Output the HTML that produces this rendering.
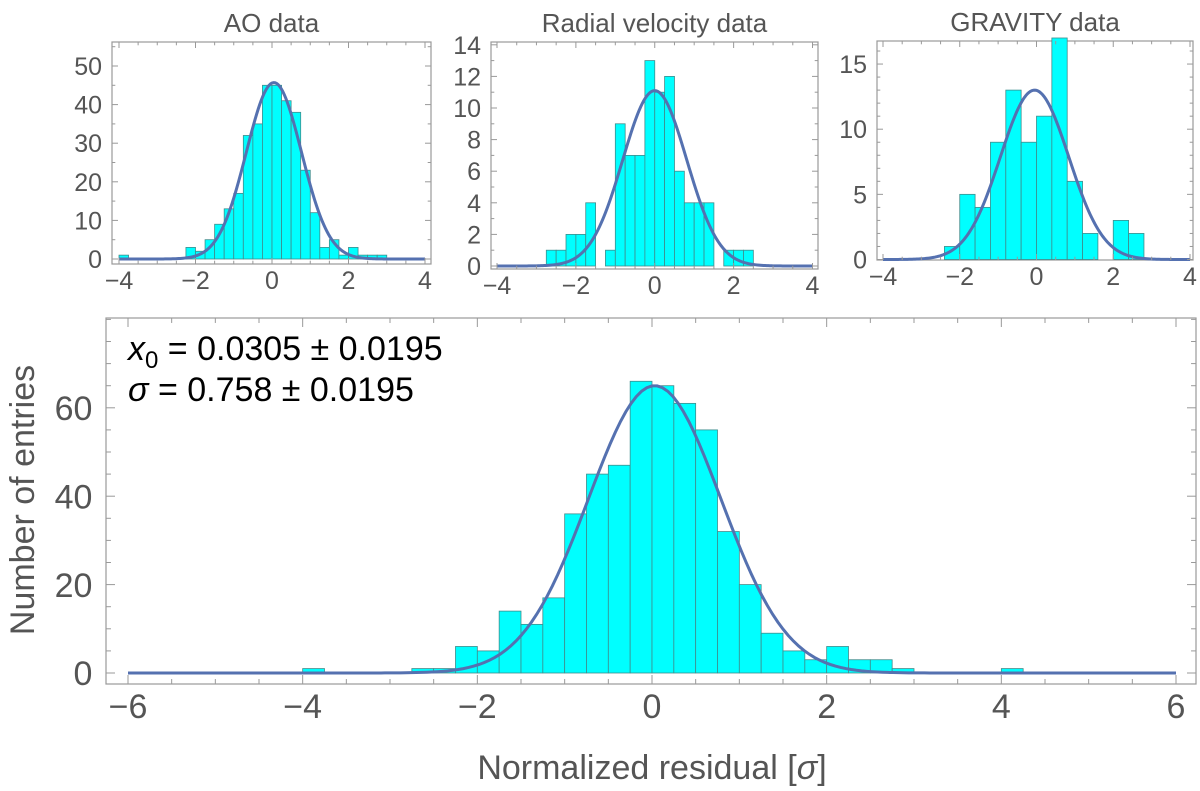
<!DOCTYPE html>
<html><head><meta charset="utf-8">
<style>
body{margin:0;background:#fff;}
svg{display:block;font-family:"Liberation Sans",sans-serif;}
</style></head>
<body>
<svg id="chart" width="1200" height="791" viewBox="0 0 1200 791" xmlns="http://www.w3.org/2000/svg"></svg>
<script>
// ---- data ----
const aoBinStart = -4.0, aoBinWidth = 0.25;
const aoCounts = [1,0,0,0,0,0,0,3,2,5,9,13,17,32,35,45,45,41,38,23,12,3,5,1,3,1,1,1];
const aoFit = [45.7, 0.05, 0.72];
const rvBinStart = -2.75, rvBinWidth = 0.25;
const rvCounts = [1,1,2,2,4,0,1,9,7,7,13,11,12,6,4,4,4,0,1,1,1];
const rvFit = [11.1, 0.0, 0.81];
const grBinStart = -2.4, grBinWidth = 0.4;
const grCounts = [1,5,4,9,13,9,11,17,6,2,0,3,2];
const grFit = [13.0, -0.05, 0.89];
const mainBinStart = -4.0, mainBinWidth = 0.25;
const mainCounts = [1,0,0,0,0,1,1,6,5,14,11,17,36,45,47,66,65,61,55,32,20,9,5,3,6,3,3,1,0,0,0,0,1];
const mainFit = [65, 0.0305, 0.758];
const smallXTicks = [-4,-2,0,2,4];
const aoYTicks = [0,10,20,30,40,50];
const rvYTicks = [0,2,4,6,8,10,12,14];
const grYTicks = [0,5,10,15];
const mainXTicks = [-6,-4,-2,0,2,4,6];
const mainYTicks = [0,20,40,60];

const svg = document.getElementById('chart');
const NS = 'http://www.w3.org/2000/svg';
function mk(tag, attrs, parent){
  const e = document.createElementNS(NS, tag);
  for (const k in attrs) e.setAttribute(k, attrs[k]);
  (parent||svg).appendChild(e);
  return e;
}

function panel(o){
  const g = mk('g', {});
  
  
  const sx = v => o.x0 + (v - o.xmin) / (o.xmax - o.xmin) * (o.x1 - o.x0);
  const sy = v => o.y0 - v * o.ppu;
  const fr = mk('rect', {x:o.fl, y:o.ft, width:o.fr-o.fl, height:o.fb-o.ft, fill:'none', stroke:'#999', 'stroke-width':1.2}, g);
  
  
  o.counts.forEach((c, i) => {
    if (c <= 0) return;
    const a = o.binStart + i * o.binWidth;
    const r = mk('rect', {x:sx(a), y:sy(c), width:sx(a+o.binWidth)-sx(a), height:sy(0)-sy(c), fill:'#00ffff', stroke:'#3f8c8c', 'stroke-width':0.8}, g);
    
    
  });
  let d = '';
  const n = 200;
  for (let k = 0; k <= n; k++) {
    const v = o.xmin + (o.xmax - o.xmin) * k / n;
    const y = o.fit[0] * Math.exp(-0.5 * Math.pow((v - o.fit[1]) / o.fit[2], 2));
    d += (k ? 'L' : 'M') + sx(v).toFixed(2) + ',' + sy(y).toFixed(2);
  }
  const p = mk('path', {d:d, fill:'none', stroke:'#5571b0', 'stroke-width':o.lw}, g);
  
  
  for (let v = o.xmin; v <= o.xmax + 1e-9; v += o.xminor) {
    const major = o.xticks.some(t => Math.abs(t - v) < 1e-6);
    const L = major ? o.tl : o.tl * 0.55;
    mk('line', {x1:sx(v), x2:sx(v), y1:o.fb, y2:o.fb-L, stroke:'#999', 'stroke-width':1}, g);
    mk('line', {x1:sx(v), x2:sx(v), y1:o.ft, y2:o.ft+L, stroke:'#999', 'stroke-width':1}, g);
  }
  o.xticks.forEach(t => {
    const tx = mk('text', {x:sx(t), y:o.fb + o.fs*1.0, 'font-size':o.fs, fill:'#555', 'text-anchor':'middle'}, g);
    tx.textContent = (t < 0 ? '\u2212' + (-t) : '' + t);
    
    
  });
  const ymaxv = (o.y0 - o.ft) / o.ppu;
  for (let v = 0; v <= ymaxv; v += o.yminor) {
    const major = o.yticks.some(t => Math.abs(t - v) < 1e-6);
    const L = major ? o.tl : o.tl * 0.55;
    mk('line', {x1:o.fl, x2:o.fl+L, y1:sy(v), y2:sy(v), stroke:'#999', 'stroke-width':1}, g);
    mk('line', {x1:o.fr, x2:o.fr-L, y1:sy(v), y2:sy(v), stroke:'#999', 'stroke-width':1}, g);
  }
  o.yticks.forEach(t => {
    const ty = mk('text', {x:o.fl - o.fs*0.4, y:sy(t) + o.fs*0.36, 'font-size':o.fs, fill:'#555', 'text-anchor':'end'}, g);
    ty.textContent = '' + t;
    
    
  });
  if (o.title) {
    const tt = mk('text', {x:(o.fl+o.fr)/2, y:o.ft - 10, 'font-size':26, fill:'#555', 'text-anchor':'middle'}, g);
    tt.textContent = o.title;
    
    
  }
}

panel({name:'ao-panel', title:'AO data', fl:112, fr:431, ft:42, fb:264, x0:119, x1:425, xmin:-4, xmax:4,
  y0:259, ppu:3.86, counts:aoCounts, binStart:aoBinStart, binWidth:aoBinWidth, fit:aoFit,
  xticks:smallXTicks, xminor:0.5, yticks:aoYTicks, yminor:5, fs:25, tl:6, lw:3});
panel({name:'radial-velocity-panel', title:'Radial velocity data', fl:491, fr:818, ft:42, fb:269, x0:497, x1:812.5, xmin:-4, xmax:4,
  y0:266, ppu:15.8, counts:rvCounts, binStart:rvBinStart, binWidth:rvBinWidth, fit:rvFit,
  xticks:smallXTicks, xminor:0.5, yticks:rvYTicks, yminor:1, fs:25, tl:6, lw:3});
panel({name:'gravity-panel', title:'GRAVITY data', fl:877, fr:1193, ft:41, fb:260, x0:883, x1:1190, xmin:-4, xmax:4,
  y0:259.5, ppu:13.03, counts:grCounts, binStart:grBinStart, binWidth:grBinWidth, fit:grFit,
  xticks:smallXTicks, xminor:0.5, yticks:grYTicks, yminor:1, fs:25, tl:6, lw:3});
panel({name:'combined-panel', title:null, fl:106, fr:1196, ft:318, fb:684, x0:128, x1:1176, xmin:-6, xmax:6,
  y0:673, ppu:4.42, counts:mainCounts, binStart:mainBinStart, binWidth:mainBinWidth, fit:mainFit,
  xticks:mainXTicks, xminor:0.5, yticks:mainYTicks, yminor:5, fs:34, tl:9, lw:3});

const a1 = mk('text', {x:128, y:360, 'font-size':34, fill:'#000'});


a1.innerHTML = '<tspan font-style="italic">x</tspan><tspan font-size="24" dy="8">0</tspan><tspan dy="-8"> = 0.0305 \u00b1 0.0195</tspan>';
const a2 = mk('text', {x:128, y:401, 'font-size':34, fill:'#000'});


a2.innerHTML = '<tspan font-style="italic">\u03c3</tspan> = 0.758 \u00b1 0.0195';
const xt = mk('text', {x:652, y:779, 'font-size':34, fill:'#555', 'text-anchor':'middle'});


xt.innerHTML = 'Normalized residual [<tspan font-style="italic">\u03c3</tspan>]';
const yt = mk('text', {x:0, y:0, 'font-size':34, fill:'#555', 'text-anchor':'middle', transform:'translate(34,500) rotate(-90)'});


yt.textContent = 'Number of entries';
</script>
</body></html>
